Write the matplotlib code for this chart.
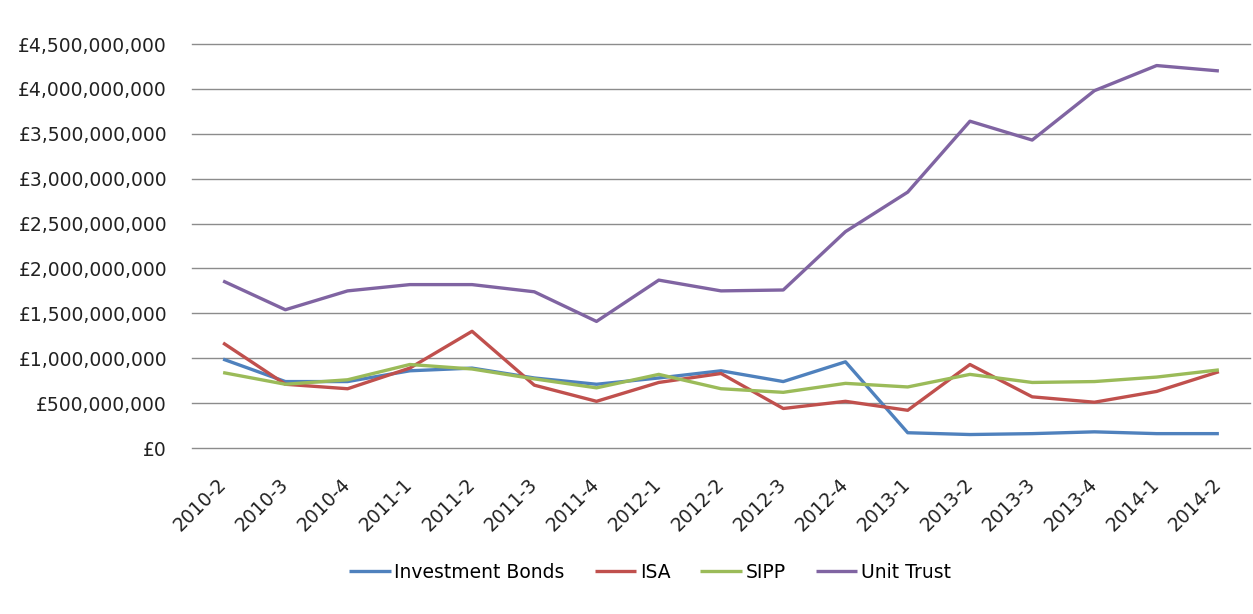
import matplotlib.pyplot as plt
from matplotlib.ticker import FuncFormatter

quarters = ["2010-2", "2010-3", "2010-4", "2011-1", "2011-2", "2011-3", "2011-4",
            "2012-1", "2012-2", "2012-3", "2012-4", "2013-1", "2013-2", "2013-3",
            "2013-4", "2014-1", "2014-2"]

# values in GBP billions
investment_bonds = [0.99, 0.74, 0.74, 0.86, 0.89, 0.78, 0.71, 0.78, 0.86, 0.74,
                    0.96, 0.17, 0.15, 0.16, 0.18, 0.16, 0.16]
isa = [1.17, 0.71, 0.66, 0.89, 1.30, 0.70, 0.52, 0.73, 0.83, 0.44,
       0.52, 0.42, 0.93, 0.57, 0.51, 0.63, 0.85]
sipp = [0.84, 0.71, 0.76, 0.93, 0.88, 0.77, 0.67, 0.82, 0.66, 0.62,
        0.72, 0.68, 0.82, 0.73, 0.74, 0.79, 0.87]
unit_trust = [1.86, 1.54, 1.75, 1.82, 1.82, 1.74, 1.41, 1.87, 1.75, 1.76,
              2.41, 2.85, 3.64, 3.43, 3.98, 4.26, 4.20]

series = [("Investment Bonds", investment_bonds, "#4F81BD"),
          ("ISA", isa, "#C0504D"),
          ("SIPP", sipp, "#9BBB59"),
          ("Unit Trust", unit_trust, "#8064A2")]

plt.rcParams['font.family'] = ['DejaVu Sans']
fig = plt.figure(figsize=(12.53, 6.14), dpi=100)
ax = fig.add_axes([192 / 1253, 1 - 448 / 614, (1250 - 192) / 1253, (448 - 44) / 614])

x = list(range(len(quarters)))
for name, vals, col in series:
    ax.plot(x, [v * 1e9 for v in vals], color=col, lw=2.4, label=name,
            solid_joinstyle='round', solid_capstyle='butt', zorder=3)

ax.set_xlim(-0.5, len(quarters) - 0.5)
ax.set_ylim(0, 4.5e9)
ax.set_yticks([i * 5e8 for i in range(10)])
ax.yaxis.set_major_formatter(FuncFormatter(lambda v, p: "£{:,.0f}".format(v)))
ax.grid(axis='y', color='#8c8c8c', lw=1.0)
for gl in ax.get_ygridlines():
    gl.set_clip_on(False)
ax.set_axisbelow(True)
for s in ax.spines.values():
    s.set_visible(False)

ax.set_xticks(x)
ax.set_xticklabels(quarters, rotation=45, ha='right', va='center', rotation_mode='anchor')
ax.tick_params(axis='x', length=0, pad=24, labelsize=13.5, labelcolor='#222222')
ax.tick_params(axis='y', length=0, pad=18, labelsize=13.5, labelcolor='#222222')

fig.legend(loc='center', bbox_to_anchor=(650 / 1253, 1 - 572 / 614), ncol=4,
           frameon=False, fontsize=13.5, handlelength=2.2, handletextpad=0.2,
           columnspacing=1.6)

fig.savefig("out.png", dpi=100)
